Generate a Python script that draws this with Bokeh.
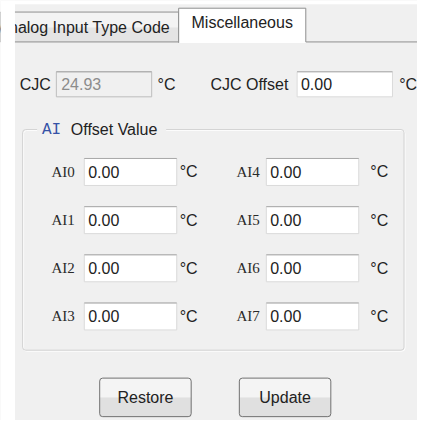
from bokeh.plotting import figure
from bokeh.models import Range1d
from bokeh.core.properties import value
from bokeh.embed import file_html
from bokeh.resources import INLINE

# ---- content ----
tab_labels = ["Analog Input Type Code", "Miscellaneous"]
cjc_label = "CJC"
cjc_value = 24.93
cjc_offset_label = "CJC Offset"
cjc_offset = 0.00
unit = "°C"
group_prefix = "AI"
group_title = "Offset Value"
left_channels = ["AI0", "AI1", "AI2", "AI3"]
right_channels = ["AI4", "AI5", "AI6", "AI7"]
left_offsets = [0.00, 0.00, 0.00, 0.00]
right_offsets = [0.00, 0.00, 0.00, 0.00]
buttons = ["Restore", "Update"]

SANS = value("Liberation Sans")
SERIF = value("Liberation Serif")
MONO = value("Liberation Mono")
BG = "#f0f0f0"
TAB_LINE = "#8e8f8f"

p = figure(width=417, height=420, x_range=Range1d(0, 433), y_range=Range1d(436, 0),
           x_axis_type=None, y_axis_type=None, output_backend="svg",
           toolbar_location=None, min_border=0)
p.grid.visible = False
p.outline_line_color = None
p.background_fill_color = BG
p.border_fill_color = "white"


def txt(x, y, s, font=SANS, size="16px", color="#222222", align="left"):
    p.text(x=[x], y=[y], text=[s], text_font=font, text_font_size=value(size),
           text_color=color, text_align=align, text_baseline="middle")


def textbox(l, r, t, b, fill="white", line="#dadada", top="#a9a9a9"):
    p.quad(left=[l], right=[r], top=[t], bottom=[b], fill_color=fill, line_color=line)
    p.line(x=[l, r], y=[t, t], line_color=top, line_width=1)


# ---- tabs ----
p.quad(left=[0], right=[185], top=[12], bottom=[28], fill_color="#f3f3f3", line_color=None)
p.quad(left=[0], right=[185], top=[28], bottom=[43], fill_color="#e4e4e4", line_color=None)
p.quad(left=[0], right=[185], top=[12], bottom=[43], fill_color=None, line_color=TAB_LINE)
txt(176, 28, tab_labels[0], align="right")
p.quad(left=[185], right=[317], top=[8], bottom=[44], fill_color="white", line_color=None)
p.multi_line(xs=[[185, 185, 317, 317], [317, 433]], ys=[[44, 8, 8, 43], [43, 43]],
             line_color=TAB_LINE)
txt(251, 23, tab_labels[1], align="center")

# ---- CJC row ----
txt(20, 87, cjc_label)
textbox(58, 157, 74, 100, fill=BG, line="#bdbdbd", top="#a9a9a9")
txt(63, 87, "%.2f" % cjc_value, color="#8c8c8c")
txt(163, 87, unit)
txt(218, 87, cjc_offset_label)
textbox(308, 407, 74, 100)
txt(312, 87, "%.2f" % cjc_offset)
txt(414, 87, unit)

# ---- group box ----
p.quad(left=[24], right=[420], top=[135], bottom=[364], fill_color=None,
       line_color="white", border_radius=3)
p.quad(left=[23], right=[419], top=[134], bottom=[363], fill_color=None,
       line_color="#d2d2d2", border_radius=3)
p.quad(left=[38], right=[172], top=[124], bottom=[144], fill_color=BG, line_color=None)
txt(43, 134, group_prefix, font=MONO, color="#3552a6")
txt(73, 134, group_title)

for i in range(len(left_channels)):
    y = 178 + 50 * i
    # left column
    txt(53, y, left_channels[i], font=SERIF, size="15px", color="#2a2a2a")
    textbox(87, 183, y - 14, y + 14)
    txt(91, y, "%.2f" % left_offsets[i])
    txt(186, y, unit)
    # right column
    txt(245, y, right_channels[i], font=SERIF, size="15px", color="#2a2a2a")
    textbox(276, 372, y - 14, y + 14)
    txt(280, y, "%.2f" % right_offsets[i])
    txt(384, y, unit)

# ---- buttons ----
for j, name in enumerate(buttons):
    l = 103 + 145 * j
    r = l + 95
    p.quad(left=[l], right=[r], top=[392], bottom=[412], fill_color="#f4f4f4", line_color=None)
    p.quad(left=[l], right=[r], top=[412], bottom=[432], fill_color="#e0e0e0", line_color=None)
    p.quad(left=[l], right=[r], top=[392], bottom=[432], fill_color=None,
           line_color="#707070", border_radius=3)
    txt((l + r) / 2, 412, name, align="center", color="#222222")

# white page edges seen in the reference
p.quad(left=[0], right=[15], top=[0], bottom=[436], fill_color="white", line_color=None)
p.quad(left=[0], right=[433], top=[0], bottom=[4], fill_color="white", line_color=None)

open("out.html", "w").write(file_html(p, INLINE))
